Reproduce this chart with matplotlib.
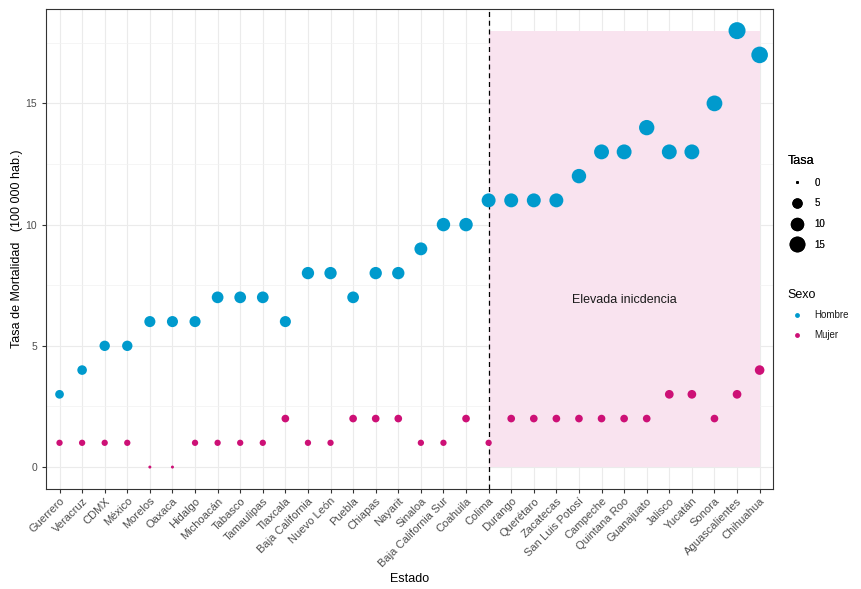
import numpy as np
import matplotlib.pyplot as plt
from matplotlib.lines import Line2D

plt.rcParams['font.family'] = ['Liberation Sans', 'DejaVu Sans']

estados = ['Guerrero', 'Veracruz', 'CDMX', 'México', 'Morelos', 'Oaxaca', 'Hidalgo',
           'Michoacán', 'Tabasco', 'Tamaulipas', 'Tlaxcala', 'Baja California',
           'Nuevo León', 'Puebla', 'Chiapas', 'Nayarit', 'Sinaloa', 'Baja California Sur',
           'Coahuila', 'Colima', 'Durango', 'Querétaro', 'Zacatecas', 'San Luis Potosí',
           'Campeche', 'Quintana Roo', 'Guanajuato', 'Jalisco', 'Yucatán', 'Sonora',
           'Aguascalientes', 'Chihuahua']
hombre = [3, 4, 5, 5, 6, 6, 6, 7, 7, 7, 6, 8, 8, 7, 8, 8, 9, 10, 10,
          11, 11, 11, 11, 12, 13, 13, 14, 13, 13, 15, 18, 17]
mujer = [1, 1, 1, 1, 0, 0, 1, 1, 1, 1, 2, 1, 1, 2, 2, 2, 1, 1, 2,
         1, 2, 2, 2, 2, 2, 2, 2, 3, 3, 2, 3, 4]
corte = 'Colima'
ymax_zona = 18
leyenda_tasa = [0, 5, 10, 15]

col_h = '#009ACD'
col_m = '#CD1076'


def tam(v):
    # marker area in pt^2 from a diameter in pixels (dpi 100)
    d = 3 + 14 * np.sqrt(np.asarray(v, dtype=float) / 18)
    return (d * 0.72) ** 2


fig = plt.figure(figsize=(8.61, 5.89), dpi=100)
ax = fig.add_axes([0.0534, 0.170, 0.8446, 0.815])

x = np.arange(len(estados))
i_corte = estados.index(corte)

# zona de elevada incidencia
ax.fill_between([i_corte, len(estados) - 1], 0, ymax_zona, color='#f9e3ef', zorder=1, lw=0)
ax.axvline(i_corte, color='black', ls=(0, (4, 3)), lw=0.9, zorder=3)

ax.scatter(x, hombre, s=tam(hombre), color=col_h, lw=0, zorder=4)
ax.scatter(x, mujer, s=tam(mujer), color=col_m, lw=0, zorder=4)

ax.text((i_corte + len(estados) - 1) / 2, 6.9, 'Elevada inicdencia', ha='center', va='center',
        fontsize=9, color='#1a1a1a', zorder=5)

ax.set_xlim(-0.6, len(estados) - 0.4)
ax.set_ylim(-0.9, 18.9)
ax.set_xticks(x)
ax.set_xticklabels(estados, rotation=45, ha='right', rotation_mode='anchor',
                   fontsize=8, color='#4d4d4d')
ax.set_yticks([0, 5, 10, 15])
ax.set_yticks([2.5, 7.5, 12.5, 17.5], minor=True)
ax.tick_params(axis='y', labelsize=7.5, labelcolor='#4d4d4d', length=3, color='#333333')
ax.tick_params(axis='y', which='minor', length=0)
ax.tick_params(axis='x', length=3, color='#333333', pad=2)
ax.grid(True, which='major', color='#ebebeb', lw=0.8, zorder=0)
ax.grid(True, which='minor', axis='y', color='#f2f2f2', lw=0.5, zorder=0)
ax.set_axisbelow(True)
for sp in ax.spines.values():
    sp.set_color('#333333')
    sp.set_linewidth(0.8)

ax.set_xlabel('Estado', fontsize=9, labelpad=3)
ax.set_ylabel('Tasa de Mortalidad   (100 000 hab.)', fontsize=9, labelpad=2)

# leyendas
h_tasa = [Line2D([], [], marker='o', ls='', color='black', markeredgewidth=0,
                 markersize=np.sqrt(tam(v))) for v in leyenda_tasa]
leg1 = fig.legend(h_tasa, [str(v) for v in leyenda_tasa], title='Tasa',
                  loc='upper left', bbox_to_anchor=(0.909, 0.745), frameon=False,
                  fontsize=7, title_fontsize=9, alignment='left',
                  labelspacing=1.1, handletextpad=0.8, borderpad=0)
h_sexo = [Line2D([], [], marker='o', ls='', color=c, markeredgewidth=0, markersize=3.5)
          for c in (col_h, col_m)]
leg2 = fig.legend(h_sexo, ['Hombre', 'Mujer'], title='Sexo',
                  loc='upper left', bbox_to_anchor=(0.909, 0.518), frameon=False,
                  fontsize=7, title_fontsize=9, alignment='left',
                  labelspacing=1.0, handletextpad=0.8, borderpad=0)
for leg in (leg1, leg2):
    for t in leg.get_texts():
        t.set_color('#1a1a1a')
fig.add_artist(leg1)

fig.savefig('out.png', dpi=100)
